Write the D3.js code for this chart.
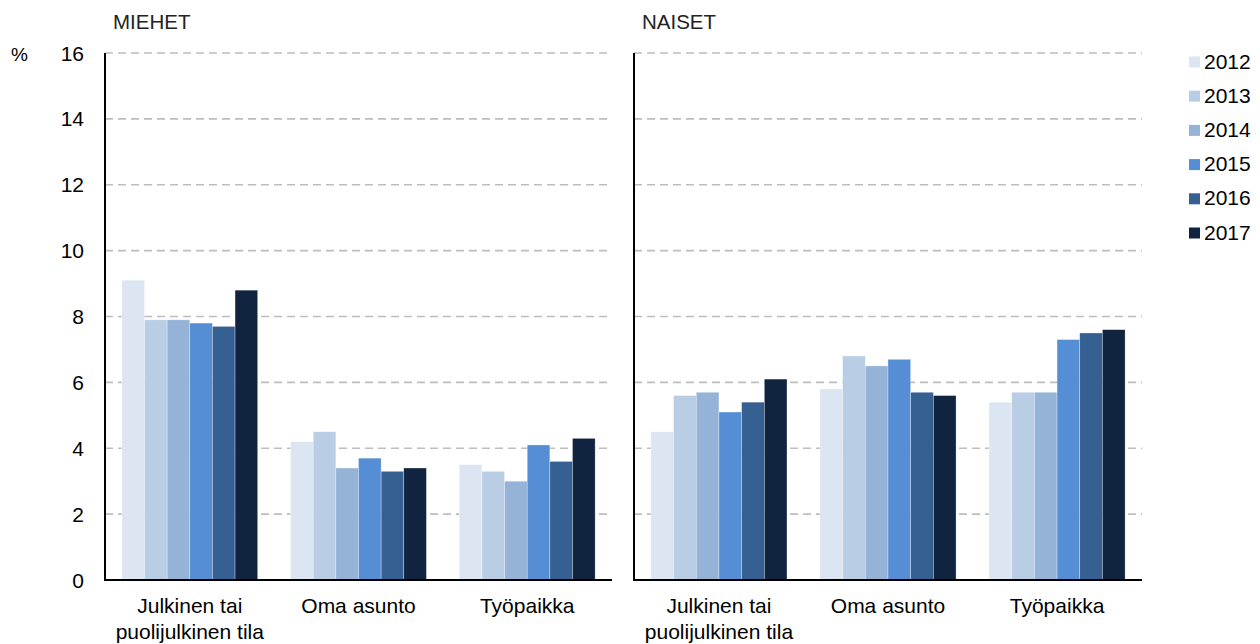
<!DOCTYPE html>
<html>
<head>
<meta charset="utf-8">
<script src="https://cdn.jsdelivr.net/npm/d3@7"></script>
<style>
  body { margin: 0; background: #fff; }
  text { font-family: "Liberation Sans", Arial, sans-serif; fill: #000; }
</style>
</head>
<body>
<svg id="chart" width="1260" height="644"></svg>
<script>
const categories = ['Julkinen tai\npuolijulkinen tila', 'Oma asunto', 'Työpaikka']
const years = ['2012', '2013', '2014', '2015', '2016', '2017']
const yTicks = [0, 2, 4, 6, 8, 10, 12, 14, 16]
const colors = ['#dce6f2', '#b9cde5', '#95b3d7', '#558ed5', '#376092', '#10243f']

// values per category, one per year
const miehet = [
  [9.1, 7.9, 7.9, 7.8, 7.7, 8.8],
  [4.2, 4.5, 3.4, 3.7, 3.3, 3.4],
  [3.5, 3.3, 3.0, 4.1, 3.6, 4.3]
]
const naiset = [
  [4.5, 5.6, 5.7, 5.1, 5.4, 6.1],
  [5.8, 6.8, 6.5, 6.7, 5.7, 5.6],
  [5.4, 5.7, 5.7, 7.3, 7.5, 7.6]
]

const svg = d3.select('#chart')
const plotTop = 53, plotBottom = 580

const y = d3.scaleLinear().domain([0, 16]).range([plotBottom, plotTop])

const panels = [
  { title: 'MIEHET', data: miehet, x0: 105, x1: 612, labels: true },
  { title: 'NAISET', data: naiset, x0: 634, x1: 1142, labels: false }
]

svg.append('text').attr('x', 11).attr('y', plotTop + 7.5).style('font-size', '19px').text('%')

panels.forEach(p => {
  const g = svg.append('g')
  const x = d3.scaleBand().domain(categories).range([p.x0, p.x1]).paddingInner(0.195).paddingOuter(0.1)
  const xs = d3.scaleBand().domain(years).range([0, x.bandwidth()])

  // gridlines
  g.append('g').selectAll('line')
    .data(yTicks.filter(d => d > 0))
    .enter().append('line')
    .attr('x1', p.x0).attr('x2', p.x1)
    .attr('y1', d => y(d)).attr('y2', d => y(d))
    .style('stroke', '#bdbdbd')
    .style('stroke-width', 1.6)
    .style('stroke-dasharray', '8,5')

  if (p.labels) {
    g.append('g').selectAll('text')
      .data(yTicks)
      .enter().append('text')
      .attr('x', 84).attr('y', d => y(d) + 7.5)
      .attr('text-anchor', 'end')
      .style('font-size', '21px')
      .text(d => d)
  }

  // bars
  g.append('g').selectAll('g')
    .data(p.data)
    .enter().append('g')
    .attr('transform', (d, i) => `translate(${x(categories[i])},0)`)
    .selectAll('rect')
    .data(d => d)
    .enter().append('rect')
    .attr('x', (d, i) => xs(years[i]))
    .attr('width', xs.bandwidth())
    .attr('y', d => y(d))
    .attr('height', d => plotBottom - y(d))
    .style('fill', (d, i) => colors[i])
    .style('stroke', 'rgba(255,255,255,0.5)')
    .style('stroke-width', 0.6)

  // axes lines
  g.append('line').attr('x1', p.x0).attr('x2', p.x0).attr('y1', plotTop).attr('y2', plotBottom + 1)
    .style('stroke', '#000').style('stroke-width', 2)
  g.append('line').attr('x1', p.x0 - 1).attr('x2', p.x1).attr('y1', plotBottom).attr('y2', plotBottom)
    .style('stroke', '#000').style('stroke-width', 2)

  // category labels
  const lab = g.append('g').selectAll('text')
    .data(categories)
    .enter().append('text')
    .attr('x', d => x(d) + x.bandwidth() / 2)
    .attr('y', 613)
    .attr('text-anchor', 'middle')
    .style('font-size', '21px')
  lab.selectAll('tspan')
    .data(d => d.split('\n'))
    .enter().append('tspan')
    .attr('x', function () { return d3.select(this.parentNode).attr('x') })
    .attr('dy', (d, i) => i === 0 ? 0 : 25.5)
    .text(d => d)

  svg.append('text').attr('x', p.x0 + 8).attr('y', 29)
    .style('font-size', '20.5px').style('fill', '#222').text(p.title)
})

// legend
const legend = svg.append('g').selectAll('g')
  .data(years)
  .enter().append('g')
  .attr('transform', (d, i) => `translate(1189,${62 + i * 34.2})`)
legend.append('rect').attr('x', 0).attr('y', -5.5).attr('width', 11).attr('height', 11)
  .style('fill', (d, i) => colors[i])
legend.append('text').attr('x', 15).attr('y', 6.5).style('font-size', '21px').text(d => d)
</script>
</body>
</html>
